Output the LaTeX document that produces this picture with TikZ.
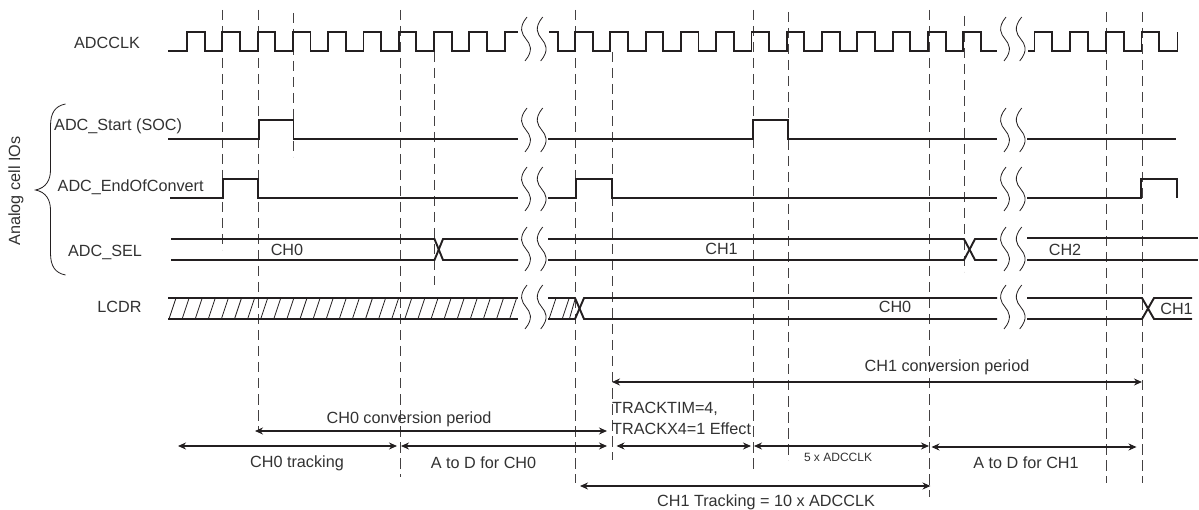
\documentclass[tikz,border=0pt]{standalone}
\usepackage{fontspec}
\setmainfont{Liberation Sans}
\usepackage{xcolor}
\usetikzlibrary{arrows.meta}
\definecolor{sigdark}{RGB}{35,31,32}
\definecolor{sigtext}{RGB}{50,50,50}
\newcommand{\breakmark}[2]{%
    \foreach \dx in {0,15.7} {
        \draw[wavy] (#1+\dx+1,#2) .. controls (#1+\dx-8,#2+11) and (#1+\dx-4,#2+17) .. (#1+\dx,#2+22)
            .. controls (#1+\dx+4,#2+27) and (#1+\dx+8,#2+33) .. (#1+\dx-1,#2+44);
    }%
}
\tikzset{
    signal/.style={sigdark,line width=1.9pt,line join=miter},
    cursor/.style={sigdark!85,line width=0.8pt,dash pattern=on 10.5pt off 5.5pt},
    wavy/.style={sigdark,line width=0.8pt},
    span/.style={sigdark,line width=1.1pt,<->},
    spanbold/.style={sigdark,line width=1.9pt,<->},
    lbl/.style={sigtext,inner sep=0pt,font=\fontsize{16.2}{19}\selectfont},
    tinylbl/.style={sigtext,inner sep=0pt,font=\fontsize{12}{14}\selectfont},
}
\begin{document}
\begin{tikzpicture}[x=1pt,y=-1pt,>={Stealth[length=8pt,width=7pt]}]
    \useasboundingbox (0,0) rectangle (1199,510);
    % cursors
    \draw[cursor] (222.5,10)--(222.5,250);
    \draw[cursor] (258,10)--(258,430);
    \draw[cursor] (293,13)--(293,157);
    \draw[cursor] (400,10)--(400,477);
    \draw[cursor] (434.5,52)--(434.5,285);
    \draw[cursor] (575,10)--(575,483);
    \draw[cursor] (612,52)--(612,460);
    \draw[cursor] (753,10)--(753,472);
    \draw[cursor] (788,12)--(788,460);
    \draw[cursor] (929.5,10)--(929.5,497);
    \draw[cursor] (964.5,16)--(964.5,272);
    \draw[cursor] (1106.5,12)--(1106.5,483);
    \draw[cursor] (1142,12)--(1142,483);
    % clock
    \draw[signal] (168,51) foreach \x in {187,222.3,257.6,292.9,328.2,363.5,398.8,434.1,469.4} {--(\x,51)--(\x,32)--(\x+17.6,32)--(\x+17.6,51)}
        --(504.7,51)--(504.7,32)--(518,32);
    \draw[signal] (549,32)--(558,32)--(558,51) foreach \x in {575,610.3,645.6,680.9,716.2,751.5,786.8,822.1,857.4,892.7,928,963.3} {--(\x,51)--(\x,32)--(\x+17.6,32)--(\x+17.6,51)}
        --(997,51);
    \draw[signal] (1028,51) foreach \x in {1034.5,1070,1106,1141.5} {--(\x,51)--(\x,32)--(\x+17.6,32)--(\x+17.6,51)}
        --(1177.5,51)--(1177.5,32);
    % start of conversion
    \draw[signal] (168,139)--(259,139)--(259,120)--(293.5,120)--(293.5,139)--(518,139);
    \draw[signal] (548,139)--(753,139)--(753,120)--(788,120)--(788,139)--(997,139);
    \draw[signal] (1027,139)--(1176,139);
    % end of conversion
    \draw[signal] (170,198)--(223,198)--(223,179)--(258,179)--(258,198)--(518,198);
    \draw[signal] (548,198)--(576,198)--(576,179)--(612,179)--(612,198)--(997,198);
    \draw[signal] (1027,198)--(1141,198)--(1141,179)--(1177,179)--(1177,198);
    % sel bus
    \draw[signal] (171,239)--(434.5,239)--(443,260)--(518,260);
    \draw[signal] (171,260)--(434.5,260)--(443,239)--(518,239);
    \draw[signal] (548,239)--(964,239)--(975,260)--(997,260);
    \draw[signal] (548,260)--(964,260)--(975,239)--(997,239);
    \draw[signal] (1027,238)--(1198,238);
    \draw[signal] (1027,260)--(1198,260);
    % lcdr bus
    \draw[signal] (168,298)--(518,298);
    \draw[signal] (168,319)--(518,319);
    \foreach \k in {0,...,26}
        \draw[wavy] (169+13.1*\k,319)--(176+13.1*\k,298);
    \foreach \x in {549,562.2}
        \draw[wavy] (\x,319)--(\x+7,298);
    \draw[signal] (548,298)--(575,298)--(584,319)--(997,319);
    \draw[signal] (548,319)--(575,319)--(584,298)--(997,298);
    \draw[wavy] (575.4,298)--(569.4,319);
    \draw[signal] (1027,298)--(1142,298)--(1154,319)--(1192,319);
    \draw[signal] (1027,319)--(1142,319)--(1154,298)--(1192,298);
    % breaks
    \foreach \y in {17,108,167,227,285} {
        \breakmark{526}{\y}
        \breakmark{1005}{\y}
    }
    % brace
    \draw[wavy] (65.5,104) .. controls (55,106) and (50.5,113) .. (50.5,126)--(50.5,170)
        .. controls (50.5,180) and (46,188) .. (35.5,190) .. controls (46,192) and (50.5,200) .. (50.5,210)
        --(50.5,253) .. controls (50.5,266) and (55,273) .. (65.5,275);
    \node[lbl,rotate=90] (analog) at (16,191) {Analog cell IOs};
    % signal names
    \node[lbl] (adcclk) at (107,43) {ADCCLK};
    \node[lbl,anchor=west] (adcstart) at (54,126) {ADC\_Start (SOC)};
    \node[lbl,anchor=west] (adceoc) at (57.5,187) {ADC\_EndOfConvert};
    \node[lbl] (adcsel) at (105,252) {ADC\_SEL};
    \node[lbl] (lcdr) at (119.5,307) {LCDR};
    \node[lbl] (selch0) at (287,250) {CH0};
    \node[lbl] (selch1) at (721.5,249) {CH1};
    \node[lbl] (selch2) at (1065,250) {CH2};
    \node[lbl] (lcdrch0) at (895,307) {CH0};
    \node[lbl] (lcdrch1) at (1176.5,309) {CH1};
    % periods
    \draw[spanbold] (612,382)--(1142,382);
    \node[lbl] (ch1conv) at (947,367) {CH1 conversion period};
    \draw[spanbold] (255,431)--(607,431);
    \node[lbl] (ch0conv) at (409,419) {CH0 conversion period};
    \draw[span] (178,446)--(397,446);
    \node[lbl] (ch0track) at (297,463) {CH0 tracking};
    \draw[span] (401,446)--(607,446);
    \node[lbl] (ch0atod) at (483.5,463) {A to D for CH0};
    \node[lbl,anchor=west] (tracktim) at (612,409) {TRACKTIM=4,};
    \node[lbl,anchor=west] (trackx) at (612,429) {TRACKX4=1 Effect};
    \draw[span] (616.5,446)--(751,446);
    \draw[span] (754,446)--(929,446);
    \node[tinylbl] (fiveclk) at (838,457) {5 x ADCCLK};
    \draw[span] (931.5,447)--(1136.5,447);
    \node[lbl] (ch1atod) at (1026,463) {A to D for CH1};
    \draw[spanbold,line width=1.5pt] (580,486)--(930.5,486);
    \node[lbl] (ch1track) at (766,502) {CH1 Tracking = 10 x ADCCLK};
\end{tikzpicture}
\end{document}
